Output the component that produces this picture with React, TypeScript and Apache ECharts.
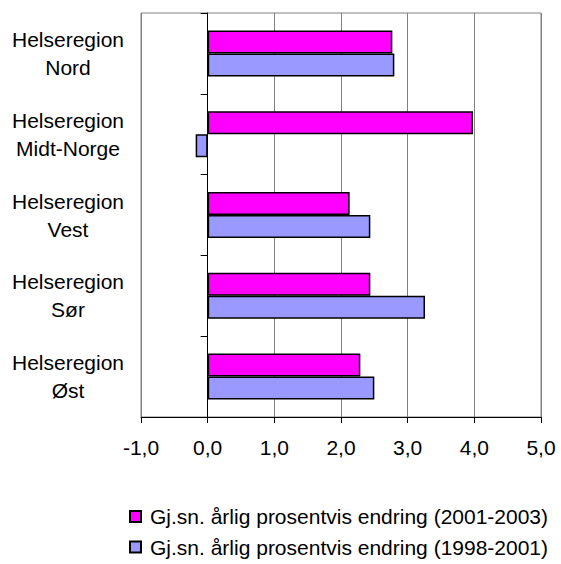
import React, { useEffect, useRef } from "react";
import * as echarts from "echarts";

const categories = [
  "Helseregion\nNord",
  "Helseregion\nMidt-Norge",
  "Helseregion\nVest",
  "Helseregion\nSør",
  "Helseregion\nØst",
];
const series2001_2003 = [2.77, 3.98, 2.13, 2.44, 2.29];
const series1998_2001 = [2.8, -0.18, 2.44, 3.26, 2.5];
const seriesNames = [
  "Gj.sn. årlig prosentvis endring (2001-2003)",
  "Gj.sn. årlig prosentvis endring (1998-2001)",
];
const xMin = -1;
const xMax = 5;
const xStep = 1;

const FONT = "'Liberation Sans', Arial, sans-serif";

export default function App() {
  const ref = useRef<HTMLDivElement>(null);
  useEffect(() => {
    if (!ref.current) return;
    const chart = echarts.init(ref.current, undefined, { renderer: "svg" });
    chart.setOption({
      animation: false,
      backgroundColor: "#ffffff",
      textStyle: { fontFamily: FONT, color: "#000" },
      grid: {
        left: 141,
        right: 20,
        top: 13,
        bottom: 147,
        show: true,
        borderColor: "#808080",
        borderWidth: 1,
      },
      xAxis: {
        type: "value",
        min: xMin,
        max: xMax,
        interval: xStep,
        axisLine: { show: true, onZero: false, lineStyle: { color: "#000", width: 1 } },
        axisTick: { show: true, length: 6, lineStyle: { color: "#000" } },
        axisLabel: {
          color: "#000",
          fontFamily: FONT,
          fontSize: 21,
          margin: 20,
          formatter: (v: number) => v.toFixed(1).replace(".", ","),
        },
        splitLine: { show: true, lineStyle: { color: "#808080", width: 1 } },
      },
      yAxis: [
        {
          type: "category",
          data: categories,
          inverse: true,
          position: "left",
          axisLine: { show: false, onZero: false },
          axisTick: { show: false },
          splitLine: { show: false },
          axisLabel: {
            color: "#000",
            fontFamily: FONT,
            fontSize: 21,
            lineHeight: 28,
            align: "center",
            margin: 73,
          },
        },
        {
          type: "category",
          data: categories,
          inverse: true,
          position: "left",
          axisLine: {
            show: true,
            onZero: true,
            onZeroAxisIndex: 0,
            lineStyle: { color: "#000", width: 1 },
          },
          axisTick: { show: true, length: 7, lineStyle: { color: "#000" } },
          axisLabel: { show: false },
          splitLine: { show: false },
        },
      ],
      legend: {
        orient: "vertical",
        left: 129,
        top: 506,
        padding: 0,
        height: 60,
        itemWidth: 11,
        itemHeight: 11,
        itemGap: 9.5,
        icon: "rect",
        textStyle: {
          color: "#000",
          fontFamily: FONT,
          fontSize: 21,
          lineHeight: 21,
          padding: [0, 0, 0, 4],
        },
        data: seriesNames,
      },
      series: [
        {
          name: seriesNames[0],
          type: "bar",
          yAxisIndex: 0,
          data: series2001_2003,
          barWidth: 23,
          barGap: "0%",
          itemStyle: { color: "#FF00FF", borderColor: "#000", borderWidth: 1.5 },
        },
        {
          name: seriesNames[1],
          type: "bar",
          yAxisIndex: 0,
          data: series1998_2001,
          barWidth: 23,
          barGap: "0%",
          itemStyle: { color: "#9999FF", borderColor: "#000", borderWidth: 1.5 },
        },
      ],
    });
    return () => chart.dispose();
  }, []);
  return (
    <div
      ref={ref}
      style={{ position: "absolute", left: 0, top: 0, width: 561, height: 564 }}
    />
  );
}
